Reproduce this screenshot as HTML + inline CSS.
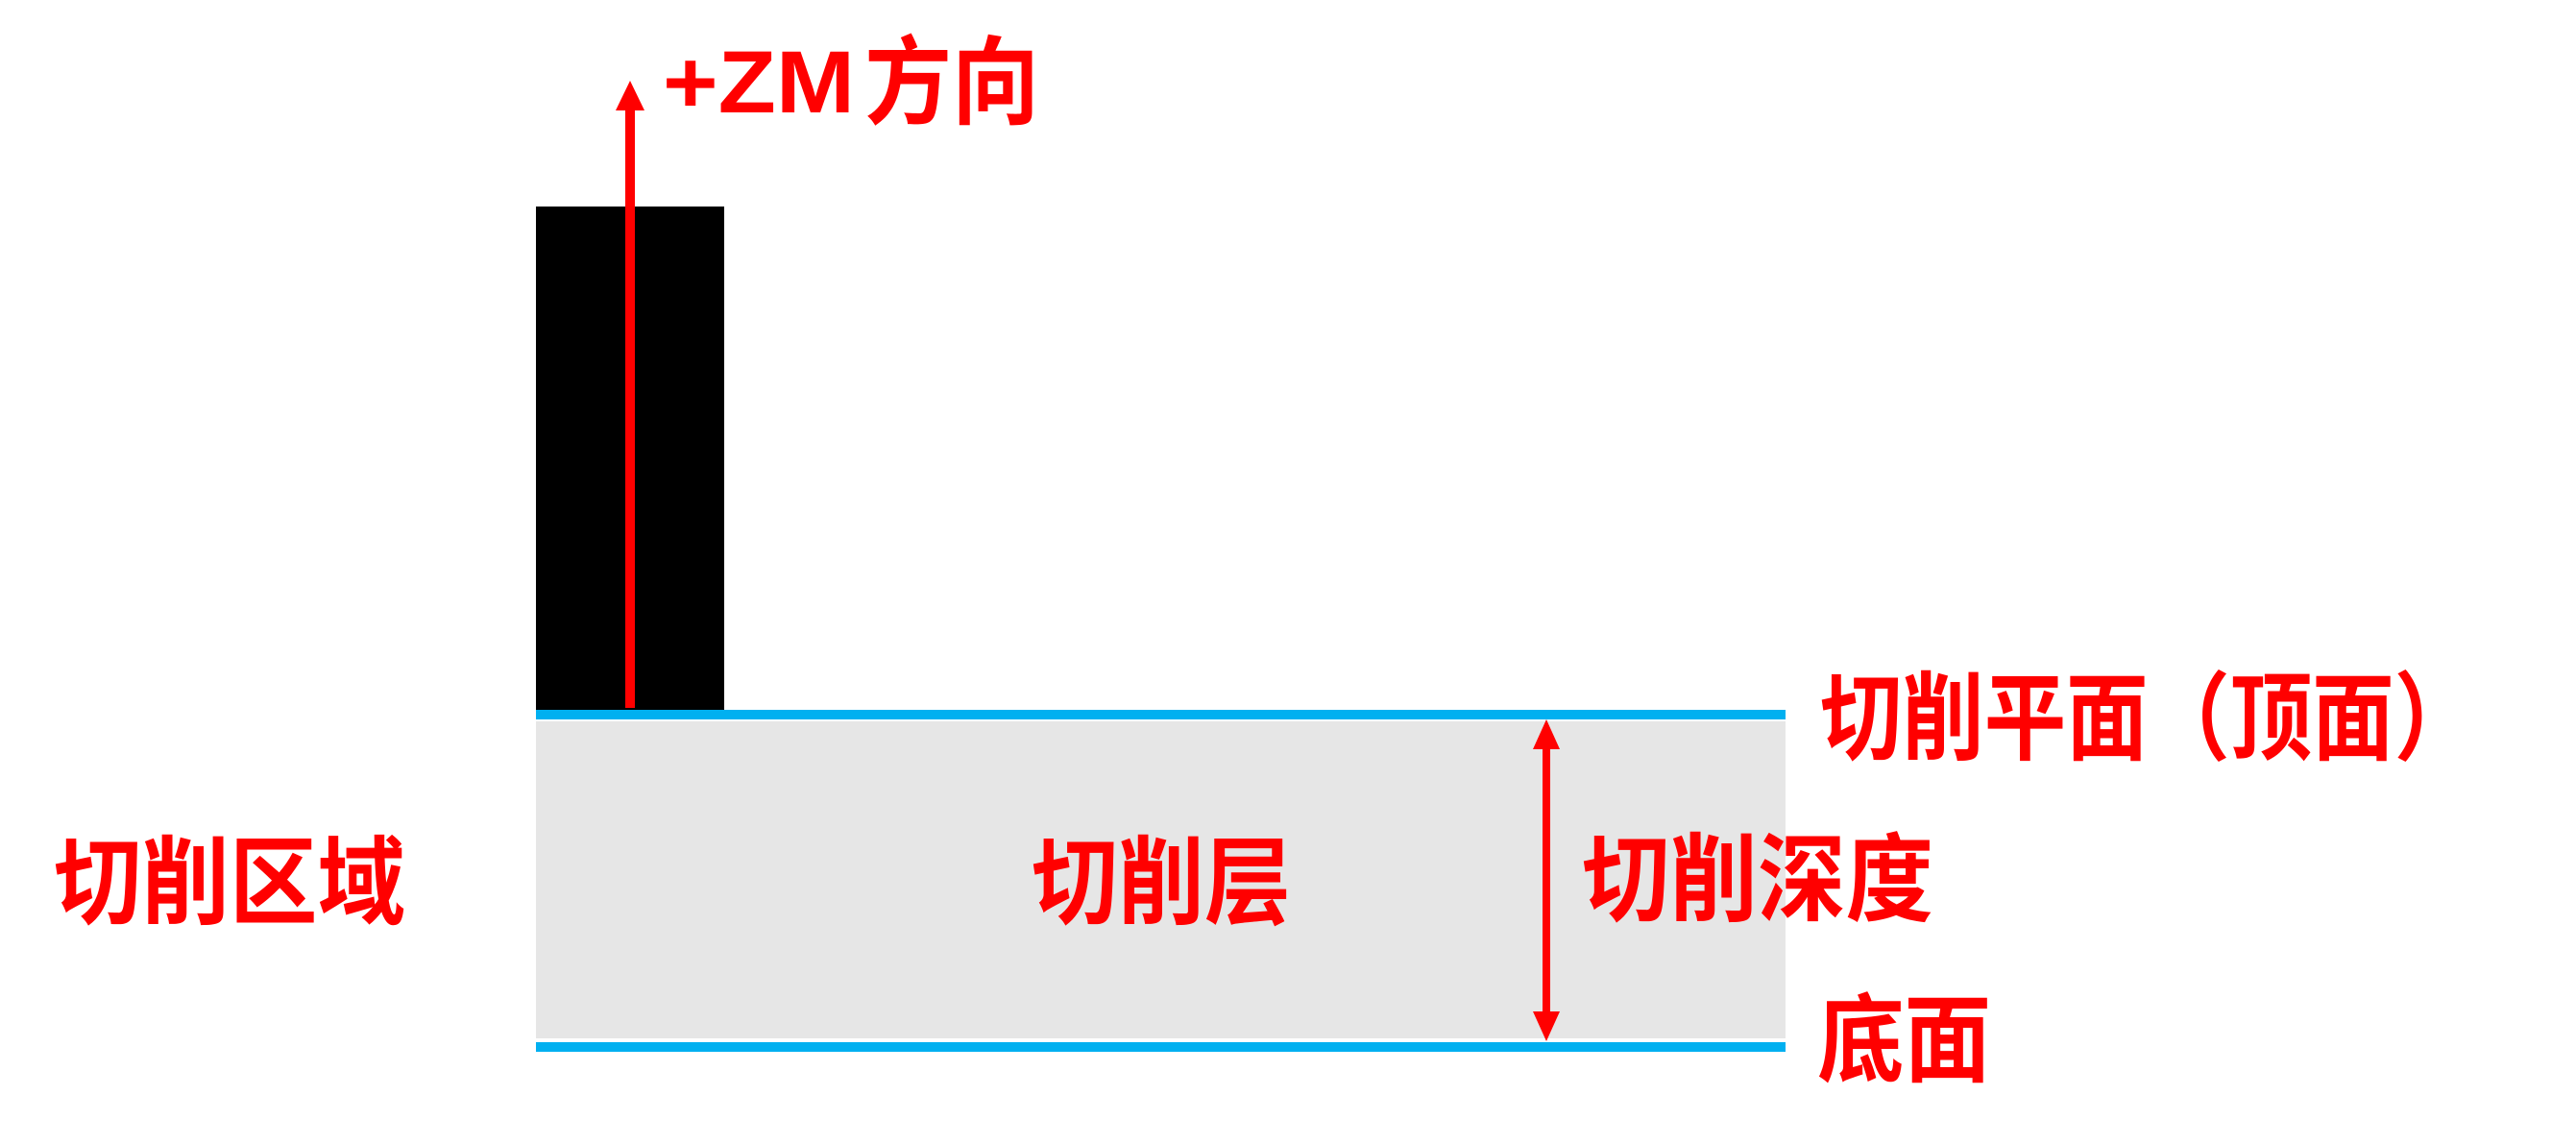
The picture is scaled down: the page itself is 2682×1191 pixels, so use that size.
<!DOCTYPE html>
<html><head><meta charset="utf-8"><style>
html,body{margin:0;padding:0;background:#fff;}
svg{display:block;}
text{font-family:"Liberation Sans","Noto Sans CJK SC",sans-serif;font-weight:bold;fill:#ff0000;}
</style></head><body>
<svg width="2682" height="1191" viewBox="0 0 2682 1191" xmlns="http://www.w3.org/2000/svg">
<rect x="0" y="0" width="2682" height="1191" fill="#fff"/>
<!-- gray layer -->
<rect x="558" y="751" width="1301" height="330" fill="#e6e6e6"/>
<!-- black tool -->
<rect x="558" y="215" width="196" height="525" fill="#000"/>
<!-- blue lines -->
<rect x="558" y="739" width="1301" height="10" fill="#00b0f0"/>
<rect x="558" y="1085" width="1301" height="10" fill="#00b0f0"/>
<!-- ZM arrow -->
<rect x="651" y="112" width="10" height="625" fill="#ff0000"/>
<polygon points="656,84 641,115 671,115" fill="#ff0000"/>
<!-- depth double arrow -->
<rect x="1606" y="770" width="8" height="295" fill="#ff0000"/>
<polygon points="1610,749 1596,780 1624,780" fill="#ff0000"/>
<polygon points="1610,1084 1596,1053 1624,1053" fill="#ff0000"/>
<!-- labels -->
<text x="690" y="117" font-size="92" textLength="200" lengthAdjust="spacingAndGlyphs">+ZM</text>
<text x="900" y="121" font-size="100" textLength="182" lengthAdjust="spacingAndGlyphs">方向</text>
<text x="56" y="954" font-size="100" textLength="366" lengthAdjust="spacingAndGlyphs">切削区域</text>
<text x="1074" y="954" font-size="100" textLength="270" lengthAdjust="spacingAndGlyphs">切削层</text>
<text x="1647" y="951" font-size="100" textLength="366" lengthAdjust="spacingAndGlyphs">切削深度</text>
<text x="1895" y="783" font-size="100" textLength="683" lengthAdjust="spacingAndGlyphs">切削平面（顶面）</text>
<text x="1892" y="1118" font-size="100" textLength="181" lengthAdjust="spacingAndGlyphs">底面</text>
</svg>
</body></html>
